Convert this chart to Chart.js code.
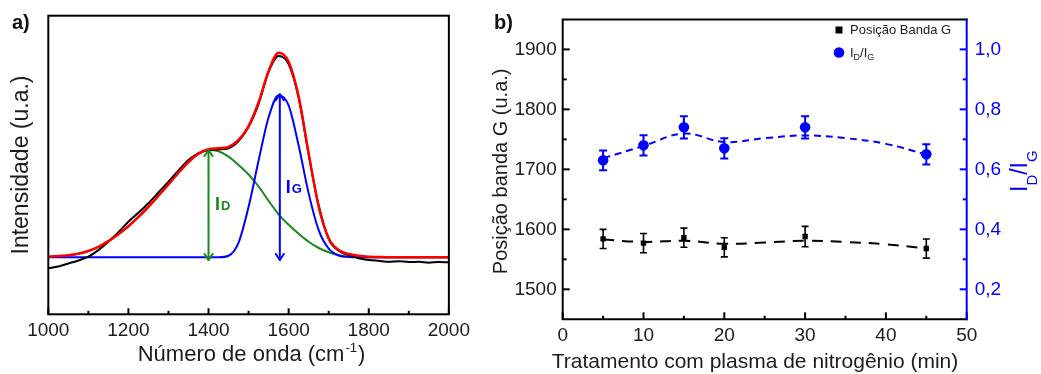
<!DOCTYPE html>
<html lang="pt">
<head>
<meta charset="utf-8">
<title>Espectro Raman e tratamento com plasma de nitrogênio</title>
<script src="https://cdn.jsdelivr.net/npm/chart.js@4.4.1/dist/chart.umd.min.js"></script>
<style>
  html, body { margin: 0; padding: 0; background: #ffffff; }
  #fig { position: relative; width: 1041px; height: 374px; overflow: hidden; }
  #fig canvas { position: absolute; top: 0; }
  #panelA { left: 0; }
  #panelB { left: 475px; }
</style>
</head>
<body>
<div id="fig">
  <canvas id="panelA" width="475" height="374"></canvas>
  <canvas id="panelB" width="566" height="374"></canvas>
</div>
<script>
// ---------- panel a: Raman spectrum and D/G band fit ----------
const wavenumber = [1000,1025,1050,1075,1100,1125,1150,1175,1200,1225,1250,1275,1300,1325,1350,1375,1400,1425,1450,1475,1500,1525,1550,1575,1600,1625,1650,1675,1700,1725,1750,1775,1800,1825,1850,1875,1900,1925,1950,1975,2000];
const spectrum   = [15.4,16.0,17.0,18.0,19.3,21.5,24.3,27.5,31.0,34.0,37.2,40.8,44.4,48.2,51.7,54.0,55.0,55.2,55.6,58.0,62.8,70.5,81.2,86.5,83.8,72.5,53.5,36.5,25.2,21.3,19.8,18.8,18.2,17.9,17.6,17.8,17.5,17.6,17.3,17.5,17.4];
const fitTotal   = [19.3,19.5,19.8,20.3,21.2,22.6,24.5,26.8,29.5,32.6,36.0,39.7,43.5,47.4,51.0,53.8,55.3,55.6,56.1,58.4,63.0,71.0,81.5,87.6,84.6,72.9,53.9,36.0,25.5,21.5,20.2,19.6,19.3,19.2,19.1,19.1,19.1,19.1,19.1,19.1,19.1];
const bandD      = [19.3,19.5,19.8,20.3,21.2,22.6,24.5,26.8,29.5,32.6,36.0,39.7,43.5,47.4,51.0,53.7,55.0,54.6,52.8,50.0,46.8,42.8,38.0,33.5,30.0,27.0,24.3,22.2,20.8,19.8,19.3,19.2,19.1,19.1,19.1,19.1,19.1,19.1,19.1,19.1,19.1];
const bandG      = [19.1,19.1,19.1,19.1,19.1,19.1,19.1,19.1,19.1,19.1,19.1,19.1,19.1,19.1,19.1,19.1,19.1,19.1,19.6,24.0,36.0,51.5,66.0,73.4,70.0,56.5,40.5,28.2,22.0,19.7,19.2,19.1,19.1,19.1,19.1,19.1,19.1,19.1,19.1,19.1,19.1];
const wavenumberTicks = [1000,1200,1400,1600,1800,2000];
// intensity markers: [wavenumber, base, peak]
const intensityD = [1400, 18.2, 55.0];
const intensityG = [1578, 18.2, 73.7];

// ---------- panel b: G band position and ID/IG vs treatment time ----------
const plasmaTime    = [5, 10, 15, 20, 30, 45];
const gBandPosition = [1584, 1577, 1586, 1570, 1588, 1568];
const gBandError    = [16, 16, 16, 16, 17, 16];
const ratioDG       = [0.63, 0.68, 0.74, 0.67, 0.74, 0.65];
const ratioDGError  = [0.033, 0.034, 0.037, 0.034, 0.037, 0.034];
const trendTime     = [5, 10, 15, 20, 25, 30, 35, 40, 45];
const gBandTrend    = [1583, 1579, 1581, 1576, 1578, 1581, 1579, 1575, 1568];
const ratioTrend    = [0.637, 0.678, 0.719, 0.691, 0.704, 0.713, 0.704, 0.685, 0.649];
const timeTicks     = [0, 10, 20, 30, 40, 50];
const positionTicks = [1500, 1600, 1700, 1800, 1900];
const ratioTicks    = [0.2, 0.4, 0.6, 0.8, 1.0];

const FONT = '"Liberation Sans", Arial, Helvetica, sans-serif';
const INK = '#1c1c1c';
const BLUE = '#0000ff';
const RED = '#ff0000';
const GREEN = '#1a8a1a';

const pairs = (xs, ys) => xs.map((x, i) => ({ x: x, y: ys[i] }));
const fixedTicks = list => scale => { scale.ticks = list.map(v => ({ value: v })); };

function tickMarks(ctx, scale, values, len, dir, area) {
  values.forEach(v => {
    const p = scale.getPixelForValue(v);
    ctx.beginPath();
    if (dir === 'up') { ctx.moveTo(p, area.bottom); ctx.lineTo(p, area.bottom - len); }
    else if (dir === 'right') { ctx.moveTo(area.left, p); ctx.lineTo(area.left + len, p); }
    else { ctx.moveTo(area.right, p); ctx.lineTo(area.right - len, p); }
    ctx.stroke();
  });
}

function range(a, b, step) { const out = []; for (let v = a; v <= b + 1e-9; v += step) out.push(+v.toFixed(6)); return out; }

function arrowV(ctx, x, y1, y2, color) {
  const head = 6, half = 4;
  ctx.save();
  ctx.strokeStyle = color; ctx.lineWidth = 2; ctx.lineCap = 'round'; ctx.lineJoin = 'round';
  ctx.beginPath(); ctx.moveTo(x, y1); ctx.lineTo(x, y2); ctx.stroke();
  ctx.beginPath();
  ctx.moveTo(x - half, y1 - head); ctx.lineTo(x, y1); ctx.lineTo(x + half, y1 - head);
  ctx.moveTo(x - half, y2 + head); ctx.lineTo(x, y2); ctx.lineTo(x + half, y2 + head);
  ctx.stroke();
  ctx.restore();
}

// text with a smaller trailing letter, as in I_D / I_G
function smallCapsLabel(ctx, x, y, main, small, color) {
  ctx.save();
  ctx.fillStyle = color; ctx.textBaseline = 'alphabetic'; ctx.textAlign = 'left';
  ctx.font = 'bold 18px ' + FONT;
  ctx.fillText(main, x, y);
  const w = ctx.measureText(main).width;
  ctx.font = 'bold 13px ' + FONT;
  ctx.fillText(small, x + w + 1, y);
  ctx.restore();
}

const panelADecor = {
  id: 'panelADecor',
  afterDatasetsDraw(chart) {
    const { ctx, chartArea: a, scales: { x, y } } = chart;
    // intensity arrows and labels
    const xd = x.getPixelForValue(intensityD[0]);
    arrowV(ctx, xd, y.getPixelForValue(intensityD[1]), y.getPixelForValue(intensityD[2]), GREEN);
    const xg = x.getPixelForValue(intensityG[0]);
    arrowV(ctx, xg, y.getPixelForValue(intensityG[1]), y.getPixelForValue(intensityG[2]), BLUE);
    smallCapsLabel(ctx, xd + 6.5, 210, 'I', 'D', GREEN);
    smallCapsLabel(ctx, xg + 6, 192.5, 'I', 'G', BLUE);

    // frame and inward ticks
    ctx.save();
    ctx.strokeStyle = '#000'; ctx.lineWidth = 2; ctx.lineCap = 'butt';
    ctx.strokeRect(a.left, a.top, a.right - a.left, a.bottom - a.top);
    tickMarks(ctx, x, wavenumberTicks, 6, 'up', a);
    tickMarks(ctx, x, range(1100, 1900, 200), 3.5, 'up', a);
    ctx.restore();

    // axis titles and panel letter
    ctx.save();
    ctx.fillStyle = INK; ctx.textBaseline = 'alphabetic';
    const t1 = 'Número de onda (cm', sup = '-1', t2 = ')';
    ctx.font = '22px ' + FONT;
    const w1 = ctx.measureText(t1).width, w2 = ctx.measureText(t2).width;
    ctx.font = '13px ' + FONT;
    const ws = ctx.measureText(sup).width;
    let xs = 251.5 - (w1 + ws + 2 + w2) / 2;
    ctx.font = '22px ' + FONT; ctx.textAlign = 'left';
    ctx.fillText(t1, xs, 361);
    ctx.font = '13px ' + FONT;
    ctx.fillText(sup, xs + w1 + 1, 352);
    ctx.font = '22px ' + FONT;
    ctx.fillText(t2, xs + w1 + ws + 2, 361);

    ctx.translate(22, (a.top + a.bottom) / 2);
    ctx.rotate(-Math.PI / 2);
    ctx.font = '23px ' + FONT; ctx.textAlign = 'center'; ctx.textBaseline = 'middle';
    ctx.fillText('Intensidade (u.a.)', 0, 0);
    ctx.restore();

    ctx.save();
    ctx.fillStyle = '#111'; ctx.font = 'bold 20px ' + FONT; ctx.textAlign = 'left';
    ctx.fillText('a)', 12, 29);
    ctx.restore();
  }
};

new Chart(document.getElementById('panelA'), {
  type: 'line',
  data: {
    datasets: [
      { label: 'Ajuste', data: pairs(wavenumber, fitTotal), borderColor: RED, borderWidth: 2.5, order: 0 },
      { label: 'Espectro', data: pairs(wavenumber, spectrum), borderColor: '#000', borderWidth: 2, order: 1 },
      { label: 'Banda G', data: pairs(wavenumber, bandG), borderColor: BLUE, borderWidth: 2, order: 2 },
      { label: 'Banda D', data: pairs(wavenumber, bandD), borderColor: GREEN, borderWidth: 2, order: 3 }
    ]
  },
  options: {
    responsive: false, animation: false, devicePixelRatio: 1,
    layout: { padding: { left: 48.3, right: 21.7, top: 15.7, bottom: 0 } },
    elements: { point: { radius: 0 }, line: { cubicInterpolationMode: 'monotone', fill: false } },
    plugins: { legend: { display: false }, tooltip: { enabled: false } },
    scales: {
      x: {
        type: 'linear', min: 1000, max: 2000,
        afterBuildTicks: fixedTicks(wavenumberTicks),
        afterFit(s) { s.height = 59.7; },
        grid: { display: false, drawTicks: false }, border: { display: false },
        ticks: { font: { family: FONT, size: 19 }, color: INK, padding: 5, maxRotation: 0, autoSkip: false, callback: v => String(v) }
      },
      y: { type: 'linear', min: 0, max: 100, display: false }
    }
  },
  plugins: [panelADecor]
});

// ---------- panel b ----------
const errorBars = {
  id: 'errorBars',
  afterDatasetsDraw(chart) {
    const ctx = chart.ctx;
    chart.data.datasets.forEach((ds, i) => {
      if (!ds.errors) return;
      const meta = chart.getDatasetMeta(i);
      const ys = chart.scales[ds.yAxisID];
      ctx.save();
      ctx.strokeStyle = ds.borderColor; ctx.lineWidth = ds.errorWidth; ctx.lineCap = 'butt';
      meta.data.forEach((pt, j) => {
        const v = ds.data[j].y, e = ds.errors[j];
        const top = ys.getPixelForValue(v + e), bot = ys.getPixelForValue(v - e);
        const cap = ds.capHalf;
        ctx.beginPath();
        ctx.moveTo(pt.x, top); ctx.lineTo(pt.x, bot);
        ctx.moveTo(pt.x - cap, top); ctx.lineTo(pt.x + cap, top);
        ctx.moveTo(pt.x - cap, bot); ctx.lineTo(pt.x + cap, bot);
        ctx.stroke();
      });
      ctx.restore();
    });
  }
};

const panelBDecor = {
  id: 'panelBDecor',
  afterDraw(chart) {
    const { ctx, chartArea: a, scales: { x, y, y1 } } = chart;
    ctx.save();
    ctx.lineWidth = 2; ctx.strokeStyle = '#000'; ctx.lineCap = 'square'; ctx.lineJoin = 'miter';
    ctx.beginPath();
    ctx.moveTo(a.right, a.top); ctx.lineTo(a.left, a.top); ctx.lineTo(a.left, a.bottom); ctx.lineTo(a.right, a.bottom);
    ctx.stroke();
    ctx.lineCap = 'butt';
    tickMarks(ctx, x, timeTicks, 7, 'up', a);
    tickMarks(ctx, x, range(5, 45, 10), 3.5, 'up', a);
    tickMarks(ctx, y, positionTicks, 7, 'right', a);
    tickMarks(ctx, y, range(1550, 1850, 100), 4, 'right', a);
    ctx.strokeStyle = BLUE;
    ctx.beginPath(); ctx.moveTo(a.right, a.top - 1); ctx.lineTo(a.right, a.bottom + 1); ctx.stroke();
    tickMarks(ctx, y1, ratioTicks, 7, 'left', a);
    tickMarks(ctx, y1, range(0.3, 0.9, 0.2), 4, 'left', a);
    ctx.restore();

    // axis titles
    ctx.save();
    ctx.fillStyle = INK; ctx.textAlign = 'center'; ctx.textBaseline = 'alphabetic';
    ctx.font = '21px ' + FONT;
    ctx.fillText('Tratamento com plasma de nitrogênio (min)', 280, 368);
    ctx.font = '20px ' + FONT;
    ctx.translate(26, (a.top + a.bottom) / 2 + 2);
    ctx.rotate(-Math.PI / 2);
    ctx.textBaseline = 'middle';
    ctx.fillText('Posição banda G (u.a.)', 0, 0);
    ctx.restore();

    // right title I_D/I_G, rotated
    ctx.save();
    ctx.fillStyle = BLUE; ctx.textAlign = 'left'; ctx.textBaseline = 'alphabetic';
    ctx.translate(552, 192);
    ctx.rotate(-Math.PI / 2);
    const parts = [['I', 23, 0], ['D', 15, 10], ['/', 23, 0], ['I', 23, 0], ['G', 15, 10]];
    let cx = 0;
    parts.forEach(([t, size, dy]) => {
      ctx.font = size + 'px ' + FONT;
      ctx.fillText(t, cx, dy);
      cx += ctx.measureText(t).width;
    });
    ctx.restore();

    // legend
    ctx.save();
    ctx.fillStyle = '#000';
    ctx.fillRect(364 - 3.5, 30 - 3.5, 7, 7);
    ctx.fillStyle = INK; ctx.font = '13px ' + FONT; ctx.textBaseline = 'middle'; ctx.textAlign = 'left';
    ctx.fillText('Posição Banda G', 375, 30.5);
    ctx.fillStyle = BLUE;
    ctx.beginPath(); ctx.arc(364, 52.5, 5.3, 0, Math.PI * 2); ctx.fill();
    ctx.fillStyle = INK; ctx.textBaseline = 'alphabetic';
    let lx = 375;
    [['I', 13, 0], ['D', 9, 3], ['/', 13, 0], ['I', 13, 0], ['G', 9, 3]].forEach(([t, size, dy]) => {
      ctx.font = size + 'px ' + FONT;
      ctx.fillText(t, lx, 57 + dy);
      lx += ctx.measureText(t).width;
    });
    ctx.restore();

    ctx.save();
    ctx.fillStyle = '#111'; ctx.font = 'bold 20px ' + FONT; ctx.textAlign = 'left';
    ctx.fillText('b)', 19, 29);
    ctx.restore();
  }
};

new Chart(document.getElementById('panelB'), {
  type: 'line',
  data: {
    datasets: [
      { label: 'Posição Banda G', data: pairs(plasmaTime, gBandPosition), yAxisID: 'y', showLine: false,
        pointStyle: 'rect', pointRadius: 3.8, pointBorderWidth: 0, backgroundColor: '#000', borderColor: '#000',
        errors: gBandError, errorWidth: 1.6, capHalf: 3.5, order: 0 },
      { label: 'ID/IG', data: pairs(plasmaTime, ratioDG), yAxisID: 'y1', showLine: false,
        pointStyle: 'circle', pointRadius: 5.3, pointBorderWidth: 0, backgroundColor: BLUE, borderColor: BLUE,
        errors: ratioDGError, errorWidth: 2, capHalf: 4, order: 0 },
      { label: 'tendência posição', data: pairs(trendTime, gBandTrend), yAxisID: 'y', borderColor: '#000',
        borderWidth: 2, borderDash: [11, 8], pointRadius: 0, tension: 0.4, order: 1 },
      { label: 'tendência razão', data: pairs(trendTime, ratioTrend), yAxisID: 'y1', borderColor: BLUE,
        borderWidth: 2, borderDash: [7, 5], pointRadius: 0, tension: 0.4, order: 1 }
    ]
  },
  options: {
    responsive: false, animation: false, devicePixelRatio: 1,
    layout: { padding: { left: 0, right: 0, top: 16.7, bottom: 0 } },
    plugins: { legend: { display: false }, tooltip: { enabled: false } },
    scales: {
      x: {
        type: 'linear', min: 0, max: 50,
        afterBuildTicks: fixedTicks(timeTicks),
        afterFit(s) { s.height = 54.7; },
        grid: { display: false, drawTicks: false }, border: { display: false },
        ticks: { font: { family: FONT, size: 19 }, color: INK, padding: 5, maxRotation: 0, autoSkip: false, callback: v => String(v) }
      },
      y: {
        type: 'linear', position: 'left', min: 1450, max: 1950,
        afterBuildTicks: fixedTicks(positionTicks),
        afterFit(s) { s.width = 87.7; },
        grid: { display: false, drawTicks: false }, border: { display: false },
        ticks: { font: { family: FONT, size: 19 }, color: INK, padding: 6, autoSkip: false, callback: v => String(v) }
      },
      y1: {
        type: 'linear', position: 'right', min: 0.1, max: 1.1,
        afterBuildTicks: fixedTicks(ratioTicks),
        afterFit(s) { s.width = 74.3; },
        grid: { display: false, drawTicks: false }, border: { display: false },
        ticks: { font: { family: FONT, size: 19 }, color: BLUE, padding: 8, autoSkip: false, callback: v => v.toFixed(1).replace('.', ',') }
      }
    }
  },
  plugins: [errorBars, panelBDecor]
});
</script>
</body>
</html>
